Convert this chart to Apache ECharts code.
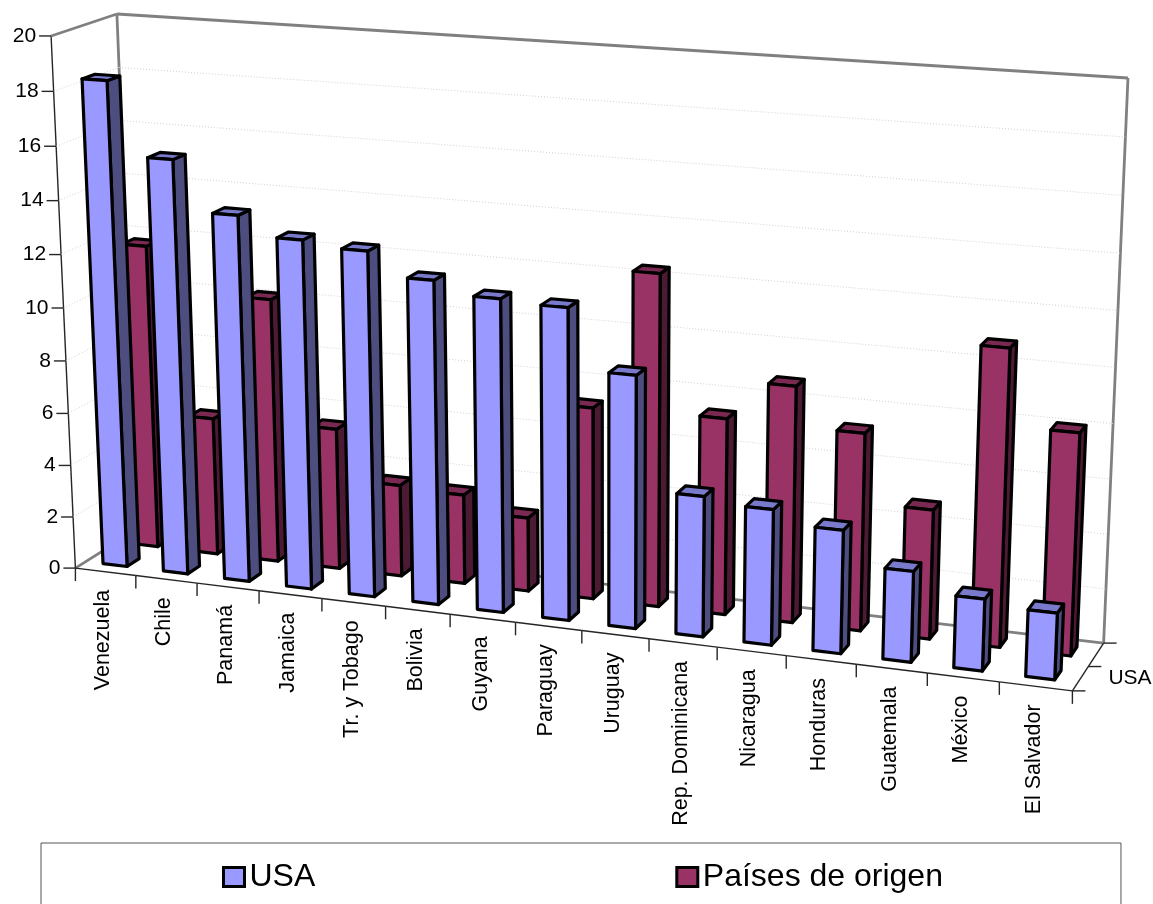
<!DOCTYPE html>
<html>
<head>
<meta charset="utf-8">
<style>html,body{margin:0;padding:0;background:#fff}#chart{width:1153px;height:904px}</style>
<script src="https://cdn.jsdelivr.net/npm/echarts@6/dist/echarts.min.js"></script>
</head>
<body>
<div id="chart"></div>
<script>
const categories = ['Venezuela','Chile','Panamá','Jamaica','Tr. y Tobago','Bolivia','Guyana','Paraguay','Uruguay','Rep. Dominicana','Nicaragua','Honduras','Guatemala','México','El Salvador'];
const usaValues = [18.35,15.65,13.8,13.1,12.9,12.05,11.6,11.5,9.3,5.17,4.97,4.5,3.3,2.6,2.4];
const origenValues = [11.7,5.3,10.1,5.4,3.5,3.4,2.8,7.2,12.35,7.3,8.73,7.27,4.75,10.8,8.05];
const yTicks = [0,2,4,6,8,10,12,14,16,18,20];
const depthLabel = 'USA';

const X_MAX = categories.length, Y_MAX = 20, Z_MAX = 2;
const FONT = '21px "Liberation Sans", Arial, sans-serif';
const CATEGORY_FONT = '21.5px "Liberation Sans", Arial, sans-serif';

// Camera calibration: known box corners (x, value, depth) and where they land on the canvas.
const anchors = [
  [0,0,0, 74,567],[X_MAX,0,0, 1073,691],[X_MAX,0,Z_MAX, 1103,643],[0,0,Z_MAX, 139,530],
  [0,Y_MAX,0, 52,37],[0,Y_MAX,Z_MAX, 116,13],[X_MAX,Y_MAX,Z_MAX, 1128,78]
];
function solveCamera(points) {
  const rows = [], rhs = [];
  points.forEach(([x,y,z,px,py]) => {
    const u = x/X_MAX, v = y/Y_MAX, w = z/Z_MAX;
    rows.push([u,v,w,1,0,0,0,0,-px*u,-px*v,-px*w]); rhs.push(px);
    rows.push([0,0,0,0,u,v,w,1,-py*u,-py*v,-py*w]); rhs.push(py);
  });
  const n = 11, m = [];
  for (let i = 0; i < n; i++) {
    m[i] = [];
    for (let j = 0; j < n; j++) m[i][j] = rows.reduce((s,r) => s + r[i]*r[j], 0);
    m[i][n] = rows.reduce((s,r,k) => s + r[i]*rhs[k], 0);
  }
  for (let c = 0; c < n; c++) {
    let best = c;
    for (let r = c+1; r < n; r++) if (Math.abs(m[r][c]) > Math.abs(m[best][c])) best = r;
    [m[c], m[best]] = [m[best], m[c]];
    for (let r = 0; r < n; r++) {
      if (r === c) continue;
      const f = m[r][c]/m[c][c];
      for (let k = c; k <= n; k++) m[r][k] -= f*m[c][k];
    }
  }
  return m.map((row,i) => row[n]/row[i]);
}
const cam = solveCamera(anchors);
function project(x, y, z) {
  const u = x/X_MAX, v = y/Y_MAX, w = z/Z_MAX;
  const d = cam[8]*u + cam[9]*v + cam[10]*w + 1;
  return [(cam[0]*u+cam[1]*v+cam[2]*w+cam[3])/d, (cam[4]*u+cam[5]*v+cam[6]*w+cam[7])/d];
}

// The hidden cartesian system fills the canvas, so its scales give plain model coordinates.
function toModel(api, cat, val) {
  const p = api.coord([cat, val]);
  return [p[0]/api.getWidth()*X_MAX, (api.getHeight()-p[1])/api.getHeight()*Y_MAX];
}
const line = (a, b, stroke, width, dash) => ({
  type:'line', shape:{x1:a[0],y1:a[1],x2:b[0],y2:b[1]},
  style:{stroke, lineWidth:width, lineDash:dash||null, fill:null}
});
const poly = (points, fill) => ({
  type:'polygon', shape:{points},
  style:{fill, stroke:'#000', lineWidth:3.2, lineJoin:'round'}
});

function barSeries(name, values, zFront, colors) {
  const LEFT = 0.215, RIGHT = 0.185, DEPTH = 0.39;
  return {
    name, type:'custom', coordinateSystem:'cartesian2d', clip:false,
    itemStyle:{color:colors[0]},
    data: values.map((v,i) => [categories[i], v]),
    encode:{x:0,y:1},
    renderItem(params, api) {
      const [mx, my] = toModel(api, api.value(0), api.value(1));
      const x0 = mx-LEFT, x1 = mx+RIGHT, z0 = zFront, z1 = zFront+DEPTH;
      const a = project(x0,0,z0), b = project(x1,0,z0), c = project(x1,my,z0), d = project(x0,my,z0);
      const e = project(x1,0,z1), f = project(x1,my,z1), g = project(x0,my,z1);
      return {type:'group', children:[
        poly([b,e,f,c], colors[2]),
        poly([d,c,f,g], colors[1]),
        poly([a,b,c,d], colors[0])
      ]};
    }
  };
}

const wallStroke = '#808080', axisStroke = '#262626', gridStroke = '#d2d2d2';

const option = {
  animation:false,
  backgroundColor:'#fff',
  textStyle:{fontFamily:'"Liberation Sans", Arial, sans-serif'},
  grid:{left:0,right:0,top:0,bottom:0,show:false},
  xAxis:{type:'category',data:categories,show:false},
  yAxis:{type:'value',min:0,max:Y_MAX,interval:2,show:false},
  legend:{
    data:['USA','Países de origen'],
    left:41, top:843,
    orient:'horizontal',
    padding:[18,178,40,181],
    itemGap:360,
    itemWidth:21, itemHeight:19,
    icon:'rect',
    borderColor:'#555', borderWidth:1,
    itemStyle:{borderColor:'#000',borderWidth:3},
    textStyle:{fontSize:32,color:'#000',fontFamily:'"Liberation Sans", Arial, sans-serif'},
    selectedMode:false
  },
  series:[
    // Walls, gridlines and the value axis
    {
      name:'Escala', type:'custom', coordinateSystem:'cartesian2d', clip:false, silent:true,
      data:yTicks.map(t => [categories[0], t]), encode:{x:0,y:1},
      renderItem(params, api) {
        const my = toModel(api, api.value(0), api.value(1))[1];
        const t = api.value(1);
        const front = project(0,my,0), back = project(0,my,Z_MAX), right = project(X_MAX,my,Z_MAX);
        const wall = t === 0 || t === Y_MAX;
        const children = [
          line(front, back, wall ? wallStroke : gridStroke, wall ? 2.8 : 1, wall ? null : [1,2]),
          line(back, right, wall ? wallStroke : gridStroke, wall ? 2.8 : 1, wall ? null : [1,2]),
          line([front[0]-12, front[1]], front, axisStroke, 1.4),
          {type:'text', style:{x:front[0]-15, y:front[1], text:String(t), align:'right', verticalAlign:'middle', font:FONT, fill:'#000'}}
        ];
        if (params.dataIndex === 0) {
          const top = yTicks[yTicks.length-1];
          const mTop = toModel(api, api.value(0), top)[1];
          children.push(line(project(0,0,Z_MAX), project(0,mTop,Z_MAX), wallStroke, 2.8));
          children.push(line(project(X_MAX,0,Z_MAX), project(X_MAX,mTop,Z_MAX), wallStroke, 2.8));
          children.push(line(project(0,0,0), project(0,mTop,0), axisStroke, 1.4));
        }
        return {type:'group', children};
      }
    },
    barSeries('Países de origen', origenValues, 1.33, ['#993366','#7a2952','#4d1a33']),
    barSeries('USA', usaValues, 0.33, ['#9999ff','#7a7acc','#4d4d80']),
    // Category axis along the front floor edge, with the depth axis at its end
    {
      name:'Categorías', type:'custom', coordinateSystem:'cartesian2d', clip:false, silent:true,
      data:categories.map(c => [c, 0]), encode:{x:0,y:1},
      renderItem(params, api) {
        const mx = toModel(api, api.value(0), 0)[0];
        const left = project(mx-0.5,0,0), right = project(mx+0.5,0,0), mid = project(mx,0,0);
        const children = [
          line(left, right, axisStroke, 1.4),
          line(right, [right[0], right[1]+13], axisStroke, 1.4),
          {type:'text', x:mid[0]-2, y:mid[1]+18, rotation:Math.PI/2,
           style:{x:0, y:0, text:categories[params.dataIndex], align:'right', verticalAlign:'middle', font:CATEGORY_FONT, fill:'#000'}}
        ];
        if (params.dataIndex === 0) children.push(line(left, [left[0], left[1]+13], axisStroke, 1.4));
        if (params.dataIndex === categories.length-1) {
          for (let z = 0; z <= Z_MAX; z++) {
            const p = project(X_MAX,0,z);
            children.push(line(p, [p[0]+13, p[1]], axisStroke, 1.4));
          }
          children.push(line(project(X_MAX,0,0), project(X_MAX,0,Z_MAX), axisStroke, 1.4));
          const q = project(X_MAX,0,0.5);
          children.push({type:'text', style:{x:q[0]+28, y:q[1], text:depthLabel, align:'left', verticalAlign:'middle', font:FONT, fill:'#000'}});
        }
        return {type:'group', children};
      }
    }
  ]
};
const chart = echarts.init(document.getElementById('chart'), null, {renderer:'canvas'});
chart.setOption(option);
</script>
</body>
</html>
